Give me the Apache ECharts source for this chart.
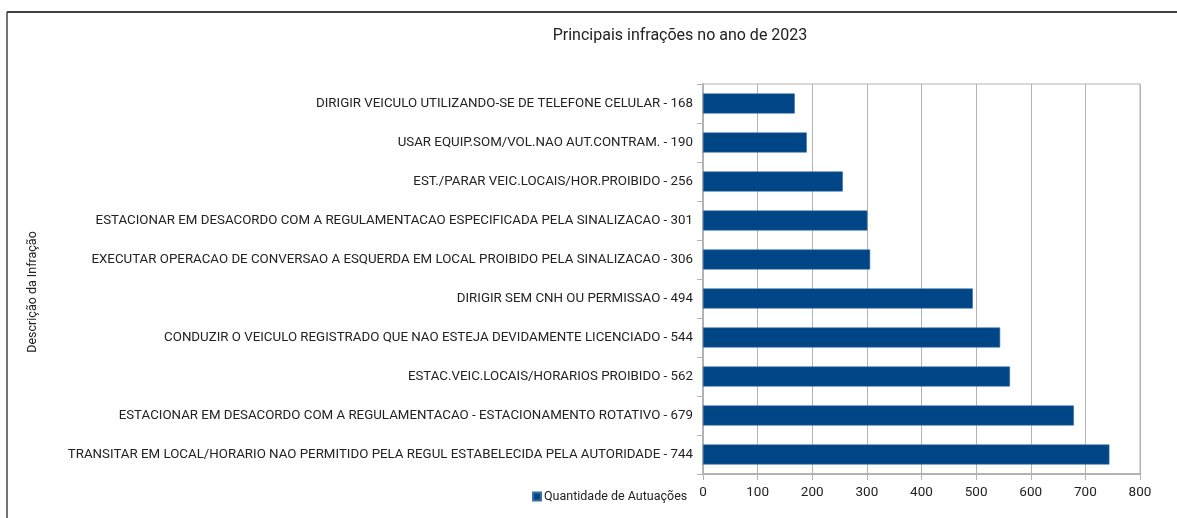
<!DOCTYPE html>
<html>
<head>
<meta charset="utf-8">
<title>Principais infrações no ano de 2023</title>
<script src="https://cdn.jsdelivr.net/npm/echarts@6/dist/echarts.min.js"></script>
<style>
  html, body { margin: 0; padding: 0; background: #fff; }
  #chart { width: 1177px; height: 518px; }
</style>
</head>
<body>
<div id="chart"></div>
<script>
// infracoes, de baixo para cima (ordem do eixo de categorias)
const infracoes = [
  "TRANSITAR EM LOCAL/HORARIO NAO PERMITIDO PELA REGUL ESTABELECIDA PELA AUTORIDADE",
  "ESTACIONAR EM DESACORDO COM A REGULAMENTACAO - ESTACIONAMENTO ROTATIVO",
  "ESTAC.VEIC.LOCAIS/HORARIOS PROIBIDO",
  "CONDUZIR O VEICULO REGISTRADO QUE NAO ESTEJA DEVIDAMENTE LICENCIADO",
  "DIRIGIR SEM CNH OU PERMISSAO",
  "EXECUTAR OPERACAO DE CONVERSAO A ESQUERDA EM LOCAL PROIBIDO PELA SINALIZACAO",
  "ESTACIONAR EM DESACORDO COM A REGULAMENTACAO ESPECIFICADA PELA SINALIZACAO",
  "EST./PARAR VEIC.LOCAIS/HOR.PROIBIDO",
  "USAR EQUIP.SOM/VOL.NAO AUT.CONTRAM.",
  "DIRIGIR VEICULO UTILIZANDO-SE DE TELEFONE CELULAR"
];
const autuacoes = [744, 679, 562, 544, 494, 306, 301, 256, 190, 168];
const xTicks = [0, 100, 200, 300, 400, 500, 600, 700, 800];

const fonte = "Roboto, 'Liberation Sans', sans-serif";
const cinza = '#b3b3b3';

let myChart = echarts.init(document.getElementById('chart'));
let option = {
  textStyle: { fontFamily: fonte },
  title: {
    text: 'Principais infrações no ano de 2023',
    left: 675,
    textAlign: 'center',
    top: 23,
    textStyle: { fontFamily: fonte, fontSize: 16, fontWeight: 'normal', color: '#222' }
  },
  legend: {
    data: ['Quantidade de Autuações'],
    left: 527,
    top: 485,
    icon: 'rect',
    itemWidth: 8,
    itemHeight: 8,
    itemGap: 4,
    textStyle: { fontFamily: fonte, fontSize: 12.5, color: '#222', padding: [0, 0, 0, -2] }
  },
  grid: {
    left: 703,
    right: 37,
    top: 84,
    bottom: 44,
    outerBoundsMode: 'none',
    containLabel: false,
    show: true,
    borderColor: cinza,
    borderWidth: 1
  },
  xAxis: {
    type: 'value',
    min: xTicks[0],
    max: xTicks[xTicks.length - 1],
    interval: 100,
    axisLine: { show: true, lineStyle: { color: cinza, width: 2 } },
    axisTick: { show: true, length: 6, lineStyle: { color: cinza } },
    splitLine: { lineStyle: { color: cinza } },
    axisLabel: { fontFamily: fonte, fontSize: 13.5, color: '#222', margin: 12 }
  },
  yAxis: {
    type: 'category',
    data: infracoes.map((n, i) => n + ' - ' + autuacoes[i]),
    name: 'Descrição da Infração',
    nameLocation: 'middle',
    nameGap: 664,
    nameRotate: 90,
    nameTextStyle: { fontFamily: fonte, fontSize: 12.5, color: '#222', padding: [0, 0, 0, -26] },
    axisLine: { show: true, lineStyle: { color: cinza, width: 2 } },
    axisTick: { show: true, length: 6, alignWithLabel: false, lineStyle: { color: cinza } },
    axisLabel: { fontFamily: fonte, fontSize: 13.3, color: '#222', margin: 10 }
  },
  series: [
    {
      name: 'Quantidade de Autuações',
      type: 'bar',
      data: autuacoes,
      barWidth: 20,
      itemStyle: { color: '#004586', borderColor: '#3a6fa3', borderWidth: 0.6 },
      animation: false
    }
  ],
  graphic: [
    { type: 'line', shape: { x1: 7, y1: 12, x2: 1177, y2: 12 }, style: { stroke: '#000', lineWidth: 1.5 } },
    { type: 'line', shape: { x1: 7, y1: 12, x2: 7, y2: 518 }, style: { stroke: '#444', lineWidth: 1.5 } }
  ],
  animation: false
};
myChart.setOption(option);
</script>
</body>
</html>
